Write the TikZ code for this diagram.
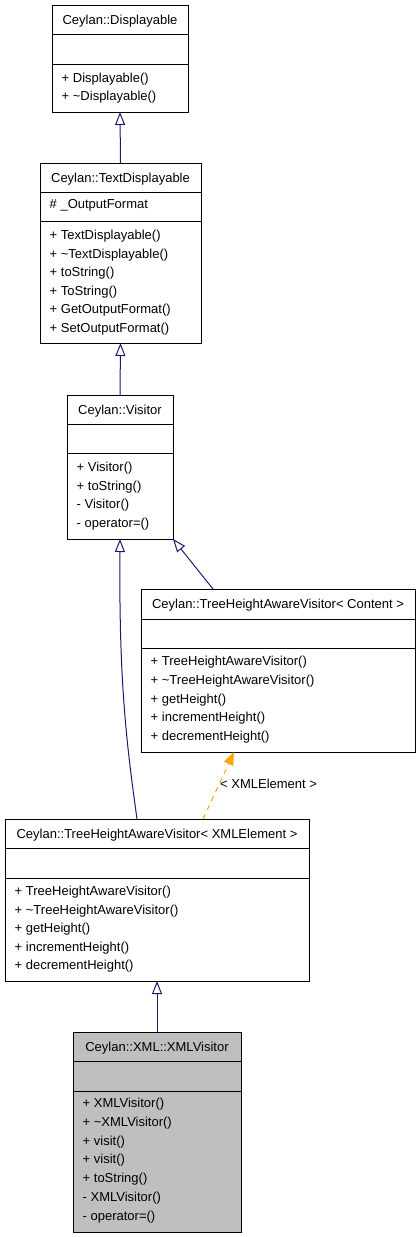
\documentclass[tikz,border=0pt]{standalone}
\usepackage{fontspec}
\setmainfont{Liberation Sans}
\usetikzlibrary{arrows.meta}
\definecolor{navy}{RGB}{25,25,112}
\definecolor{orng}{RGB}{255,165,0}
\definecolor{sel}{RGB}{191,191,191}
\newcommand{\fs}{\fontsize{13}{15}\selectfont}
\tikzset{
  umlbox/.style={draw=black, line width=0.9pt, fill=white, inner sep=0pt, outer sep=0pt, anchor=north west},
  divider/.style={draw=black, line width=1pt},
  ttl/.style={font=\fs, anchor=base, inner sep=0pt},
  mem/.style={font=\fs, anchor=base west, inner sep=0pt},
  inh/.style={draw=navy, line width=1pt, -{Triangle[open, length=13pt, width=10pt, fill=white]}},
  tmpl/.style={draw=orng, line width=1pt, dash pattern=on 5pt off 5pt, -{Triangle[length=13pt, width=10pt, fill=orng]}},
  lbl/.style={font=\fs, anchor=base west, inner sep=0pt}
}
\begin{document}
\begin{tikzpicture}[x=1pt, y=-1pt]
\useasboundingbox (0,0) rectangle (419,1237);

% Ceylan::Displayable
\node[umlbox, minimum width=136pt, minimum height=107pt] (disp) at (52,5) {};
\draw[divider] (52,34) -- (188,34);
\draw[divider] (52,64) -- (188,64);
\node[ttl] (dispt) at (120,24) {Ceylan::Displayable};
\node[mem] (dispm1) at (61.5,82) {+ Displayable()};
\node[mem] (dispm2) at (61.5,100.6) {+ \textasciitilde Displayable()};

% Ceylan::TextDisplayable
\node[umlbox, minimum width=161pt, minimum height=180pt] (text) at (40,163) {};
\draw[divider] (40,192) -- (201,192);
\draw[divider] (40,221) -- (201,221);
\node[ttl] (textt) at (120.5,182) {Ceylan::TextDisplayable};
\node[mem] (texta1) at (49.5,208.5) {\# \_OutputFormat};
\node[mem] (textm1) at (49.5,239.5) {+ TextDisplayable()};
\node[mem] (textm2) at (49.5,258.1) {+ \textasciitilde TextDisplayable()};
\node[mem] (textm3) at (49.5,276.7) {+ toString()};
\node[mem] (textm4) at (49.5,295.3) {+ ToString()};
\node[mem] (textm5) at (49.5,313.9) {+ GetOutputFormat()};
\node[mem] (textm6) at (49.5,332.5) {+ SetOutputFormat()};

% Ceylan::Visitor
\node[umlbox, minimum width=106pt, minimum height=144pt] (visitor) at (67,395) {};
\draw[divider] (67,424) -- (173,424);
\draw[divider] (67,453) -- (173,453);
\node[ttl] (visitort) at (120,414) {Ceylan::Visitor};
\node[mem] (visitorm1) at (76.5,471.5) {+ Visitor()};
\node[mem] (visitorm2) at (76.5,490.2) {+ toString()};
\node[mem] (visitorm3) at (76.5,508.9) {- Visitor()};
\node[mem] (visitorm4) at (76.5,527.6) {- operator=()};

% Ceylan::TreeHeightAwareVisitor< Content >
\node[umlbox, minimum width=274pt, minimum height=163pt] (content) at (141,589) {};
\draw[divider] (141,619) -- (415,619);
\draw[divider] (141,648) -- (415,648);
\node[ttl] (contentt) at (278,608.5) {Ceylan::TreeHeightAwareVisitor< Content >};
\node[mem] (contentm1) at (150.5,665.5) {+ TreeHeightAwareVisitor()};
\node[mem] (contentm2) at (150.5,684.3) {+ \textasciitilde TreeHeightAwareVisitor()};
\node[mem] (contentm3) at (150.5,703.1) {+ getHeight()};
\node[mem] (contentm4) at (150.5,721.9) {+ incrementHeight()};
\node[mem] (contentm5) at (150.5,740.7) {+ decrementHeight()};

% Ceylan::TreeHeightAwareVisitor< XMLElement >
\node[umlbox, minimum width=304pt, minimum height=162pt] (xmlel) at (5,819) {};
\draw[divider] (5,848) -- (309,848);
\draw[divider] (5,878) -- (309,878);
\node[ttl] (xmlelt) at (157,838) {Ceylan::TreeHeightAwareVisitor< XMLElement >};
\node[mem] (xmlelm1) at (14.5,895.5) {+ TreeHeightAwareVisitor()};
\node[mem] (xmlelm2) at (14.5,914.1) {+ \textasciitilde TreeHeightAwareVisitor()};
\node[mem] (xmlelm3) at (14.5,932.7) {+ getHeight()};
\node[mem] (xmlelm4) at (14.5,951.3) {+ incrementHeight()};
\node[mem] (xmlelm5) at (14.5,969.9) {+ decrementHeight()};

% Ceylan::XML::XMLVisitor
\node[umlbox, fill=sel, minimum width=168pt, minimum height=200pt] (xmlv) at (73,1032) {};
\draw[divider] (73,1061) -- (241,1061);
\draw[divider] (73,1091) -- (241,1091);
\node[ttl] (xmlvt) at (157,1051) {Ceylan::XML::XMLVisitor};
\node[mem] (xmlvm1) at (82.5,1107.5) {+ XMLVisitor()};
\node[mem] (xmlvm2) at (82.5,1126.3) {+ \textasciitilde XMLVisitor()};
\node[mem] (xmlvm3) at (82.5,1145.1) {+ visit()};
\node[mem] (xmlvm4) at (82.5,1163.9) {+ visit()};
\node[mem] (xmlvm5) at (82.5,1182.7) {+ toString()};
\node[mem] (xmlvm6) at (82.5,1201.5) {- XMLVisitor()};
\node[mem] (xmlvm7) at (82.5,1220.3) {- operator=()};

% connectors
\draw[inh] (text.north) -- (disp.south);
\draw[inh] (visitor.north) -- (text.south);
\draw[inh] ([xshift=72pt]content.north west) -- (visitor.south east);
\draw[inh] ([xshift=132pt]xmlel.north west) .. controls (126,740) and (119,680) .. (visitor.south);
\draw[tmpl] ([xshift=198pt]xmlel.north west) -- ([xshift=93pt]content.south west);
\node[lbl] (tlabel) at (220,788) {< XMLElement >};
\draw[inh] (xmlv.north) -- (xmlel.south);
\end{tikzpicture}
\end{document}
